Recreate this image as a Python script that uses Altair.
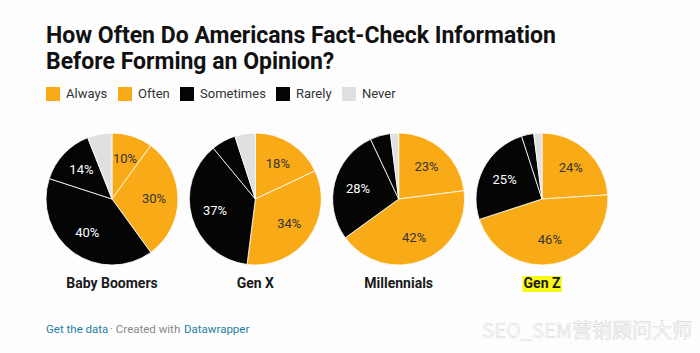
import math
import altair as alt
import pandas as pd

# ---- data ----
gens = ["Baby Boomers", "Gen X", "Millennials", "Gen Z"]
categories = ["Always", "Often", "Sometimes", "Rarely", "Never"]
always = [10, 18, 23, 24]
often = [30, 34, 42, 46]
sometimes = [40, 37, 28, 25]
rarely = [14, 6, 5, 3]
never = [6, 5, 2, 2]
highlight = [False, False, False, True]

title_lines = ["How Often Do Americans Fact-Check Information",
               "Before Forming an Opinion?"]

series = [always, often, sometimes, rarely, never]
rows = []
for gi, g in enumerate(gens):
    for ci, c in enumerate(categories):
        rows.append({"gen": g, "category": c, "order": ci, "value": series[ci][gi]})
df = pd.DataFrame(rows)
gdf = pd.DataFrame({"gen": gens, "hl": highlight})

AMBER = "#f8ab17"
BLACK = "#050505"
GREY = "#e0e0e2"
FONT = "Roboto"

xscale = alt.Scale(type="point", domain=gens, range=[112, 542], padding=0)
tscale = alt.Scale(domain=[0, 100], range=[0, 2 * math.pi])
CY = 199

base = alt.Chart(df).transform_window(
    cum="sum(value)", groupby=["gen"], sort=[alt.SortField("order")],
    frame=[None, 0]
).transform_calculate(
    start="datum.cum - datum.value",
    mid="datum.cum - datum.value / 2",
    label="datum.value + '%'",
    lc="(datum.category == 'Sometimes' || datum.category == 'Rarely') ? '#ffffff' : '#333333'"
)

arcs = base.mark_arc(radius=66, stroke="white", strokeWidth=0.8).encode(
    x=alt.X("gen:N", scale=xscale, axis=None),
    y=alt.value(CY),
    theta=alt.Theta("start:Q", scale=tscale, stack=None),
    theta2="cum:Q",
    color=alt.Color(
        "category:N",
        scale=alt.Scale(domain=categories, range=[AMBER, AMBER, BLACK, BLACK, GREY]),
        legend=alt.Legend(
            title=None, orient="none", legendX=46, legendY=87,
            direction="horizontal", symbolType="square", symbolSize=196,
            symbolStrokeWidth=0, symbolOpacity=1, labelFont=FONT, labelFontSize=13,
            labelColor="#333333", labelOffset=6, columnPadding=10, padding=0,
        ),
    ),
    order=alt.Order("order:Q"),
)

labels = base.transform_filter("datum.value >= 10").mark_text(
    radius=42, font=FONT, fontSize=13, align="center", baseline="middle"
).encode(
    x=alt.X("gen:N", scale=xscale, axis=None),
    y=alt.value(CY),
    theta=alt.Theta("mid:Q", scale=tscale, stack=None),
    text="label:N",
    color=alt.Color("lc:N", scale=None),
)

hl_box = alt.Chart(gdf).transform_filter("datum.hl").mark_point(
    shape="M-1,-0.41 L1,-0.41 L1,0.41 L-1,0.41 Z", size=1560, filled=True,
    color="#f8f81a", opacity=1, strokeWidth=0
).encode(
    x=alt.X("gen:N", scale=xscale, axis=None),
    y=alt.value(284),
)

gen_labels = alt.Chart(gdf).mark_text(
    font=FONT, fontSize=14, fontWeight="bold", color="#1a1a1a",
    align="center", baseline="middle"
).encode(
    x=alt.X("gen:N", scale=xscale, axis=None),
    y=alt.value(284),
    text="gen:N",
)

title1 = alt.Chart(pd.DataFrame({"t": [title_lines[0]]})).mark_text(
    font=FONT, fontSize=23, fontWeight="bold", color="#111111",
    align="left", baseline="alphabetic"
).encode(x=alt.value(46), y=alt.value(43), text="t:N")
title2 = alt.Chart(pd.DataFrame({"t": [title_lines[1]]})).mark_text(
    font=FONT, fontSize=23, fontWeight="bold", color="#111111",
    align="left", baseline="alphabetic"
).encode(x=alt.value(46), y=alt.value(69), text="t:N")

foot_df = pd.DataFrame({
    "t": ["Get the data", "· Created with", "Datawrapper"],
    "c": ["#1d81a2", "#888888", "#1d81a2"],
    "px": [46, 110, 184],
})
footer = alt.Chart(foot_df).mark_text(
    font=FONT, fontSize=11.5, align="left", baseline="middle"
).encode(
    x=alt.X("px:Q", scale=alt.Scale(domain=[0, 700], range=[0, 700]), axis=None),
    y=alt.value(330),
    text="t:N",
    color=alt.Color("c:N", scale=None),
)

watermark = alt.Chart(pd.DataFrame({"t": ["SEO_SEM营销顾问大师"]})).mark_text(
    font="Noto Sans CJK SC", fontSize=20, align="right", baseline="middle",
    color="#ffffff", stroke="#dadada", strokeWidth=0.6
).encode(x=alt.value(692), y=alt.value(332), text="t:N")

chart = alt.layer(
    arcs, labels, hl_box, gen_labels, title1, title2, footer, watermark
).resolve_scale(
    x="independent", color="independent"
).properties(
    width=700, height=353, background="#fdfdfe",
    autosize=alt.AutoSizeParams(type="none"), padding=0,
).configure_view(stroke=None)

chart.save("out.html", embed_options={"renderer": "svg", "actions": False})
